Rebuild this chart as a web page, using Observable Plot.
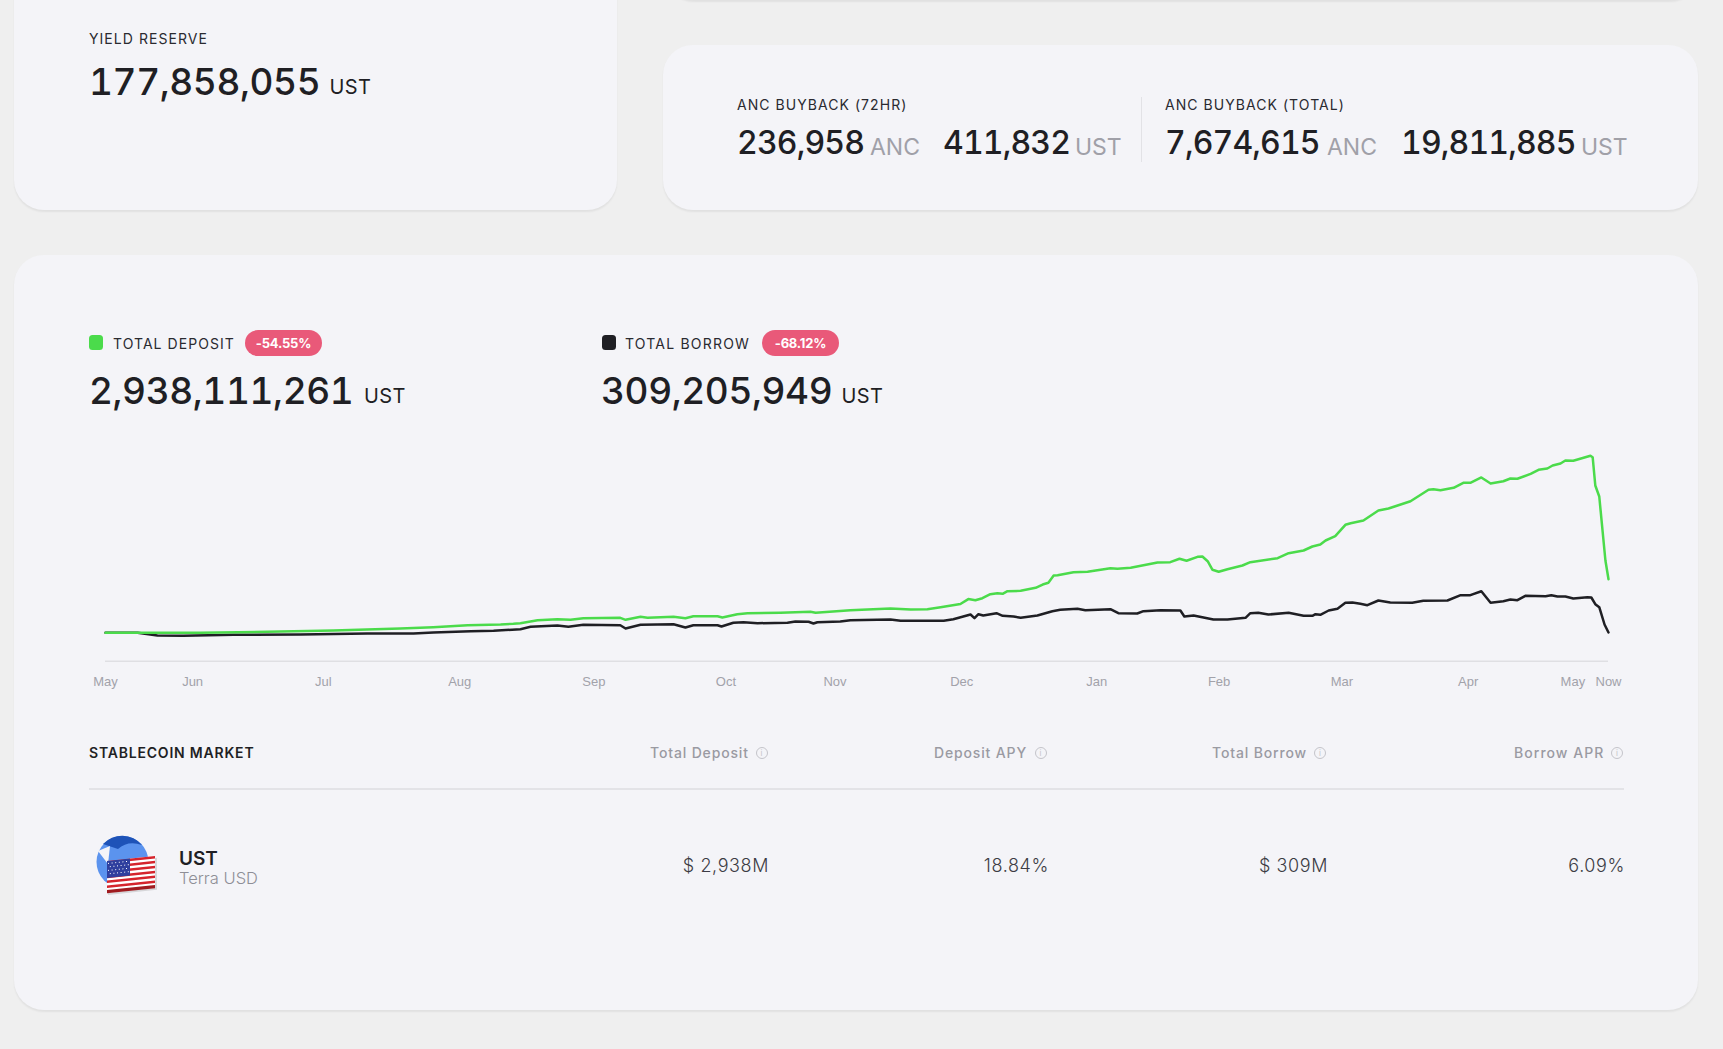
<!DOCTYPE html>
<html><head><meta charset="utf-8">
<script src="https://cdn.jsdelivr.net/npm/d3@7"></script>
<script src="https://cdn.jsdelivr.net/npm/@observablehq/plot@0.6"></script>
<style>
html,body{margin:0;padding:0;width:1723px;height:1049px;overflow:hidden;background:#efefef;font-family:Inter,"Noto Sans",sans-serif;color:#1f1f24}
.card{position:absolute;background:#f4f4f8;border-radius:30px;box-shadow:0 2px 2px rgba(0,0,0,.06)}
.t{position:absolute;white-space:nowrap;line-height:1;transform:translateY(-50%)}
.lab{font-size:14px;letter-spacing:1.05px;font-weight:400;color:#2a2a30}
.big{font-size:37px;font-weight:500;letter-spacing:-.4px;font-variant-numeric:tabular-nums}
.mid{font-size:32px;font-weight:500;letter-spacing:-.85px;font-variant-numeric:tabular-nums}
.unit{font-size:20px;font-weight:400;letter-spacing:.45px}
.gunit{font-size:23px;font-weight:400;color:#a0a0a8}
.badge{position:absolute;height:26px;border-radius:13px;background:#e95979;color:#fff;font-size:13px;font-weight:700;line-height:26px;text-align:center;letter-spacing:-.2px}
.sq{position:absolute;width:14px;height:15px;border-radius:3.5px}
.head{font-size:14px;color:#9a9aa2;letter-spacing:.85px;font-weight:500}
.info{position:absolute;width:10px;height:10px;border:1px solid #c4c4ca;border-radius:50%;transform:translate(-50%,-50%);color:#c4c4ca;font-size:8px;line-height:10px;text-align:center}
.cell{position:absolute;font-size:18px;font-weight:300;color:#3c3c44;line-height:1;transform:translate(-100%,-50%);white-space:nowrap;letter-spacing:.6px}
#chart{position:absolute;left:0;top:440px}
</style></head><body>
<div class="card" style="left:664px;width:1036px;top:-60px;height:60px"></div>
<div class="card" style="left:14px;top:-40px;width:603px;height:250px"></div>
<div class="card" style="left:663px;top:45px;width:1035px;height:165px"></div>
<div class="card" style="left:14px;top:255px;width:1684px;height:755px"></div>

<div class="t lab" style="left:89px;top:39px">YIELD RESERVE</div>
<div class="t big" style="left:89px;top:81px">177,858,055</div>
<div class="t unit" style="left:329.5px;top:87px">UST</div>

<div class="t lab" style="left:737px;top:105px">ANC BUYBACK (72HR)</div>
<div class="t mid" style="left:737px;top:143px">236,958</div>
<div class="t gunit" style="left:870px;top:147px">ANC</div>
<div class="t mid" style="left:943px;top:143px">411,832</div>
<div class="t gunit" style="left:1075px;top:147px">UST</div>
<div style="position:absolute;left:1141px;top:97px;width:1px;height:65px;background:#e2e2e6"></div>
<div class="t lab" style="left:1165px;top:105px">ANC BUYBACK (TOTAL)</div>
<div class="t mid" style="left:1165px;top:143px">7,674,615</div>
<div class="t gunit" style="left:1327px;top:147px">ANC</div>
<div class="t mid" style="left:1401px;top:143px">19,811,885</div>
<div class="t gunit" style="left:1581px;top:147px">UST</div>

<div class="sq" style="left:89px;top:335px;background:#4bdb4b"></div>
<div class="t lab" style="left:113px;top:344px">TOTAL DEPOSIT</div>
<div class="badge" style="left:245px;top:330px;width:77px">-54.55%</div>
<div class="t big" style="left:89px;top:390px">2,938,111,261</div>
<div class="t unit" style="left:364px;top:396px">UST</div>

<div class="sq" style="left:602px;top:335px;background:#1f1f24"></div>
<div class="t lab" style="left:625px;top:344px;letter-spacing:1.2px">TOTAL BORROW</div>
<div class="badge" style="left:762px;top:330px;width:77px">-68.12%</div>
<div class="t big" style="left:601px;top:390px">309,205,949</div>
<div class="t unit" style="left:841.5px;top:396px">UST</div>

<div id="chart"></div>

<div class="t lab" style="left:89px;top:753px;font-weight:600;color:#1f1f24;letter-spacing:.8px">STABLECOIN MARKET</div>
<div class="t head" style="left:650px;top:753px">Total Deposit</div><div class="info" style="left:761.5px;top:753px">i</div>
<div class="t head" style="left:934px;top:753px">Deposit APY</div><div class="info" style="left:1040.5px;top:753px">i</div>
<div class="t head" style="left:1212px;top:753px">Total Borrow</div><div class="info" style="left:1320px;top:753px">i</div>
<div class="t head" style="left:1514px;top:753px;letter-spacing:1.05px">Borrow APR</div><div class="info" style="left:1617px;top:753px">i</div>
<div style="position:absolute;left:89px;top:788px;width:1535px;height:2px;background:#e3e3e7"></div>

<svg style="position:absolute;left:90px;top:830px" width="72" height="72" viewBox="90 830 72 72">
 <circle cx="122.5" cy="862" r="26" fill="#5b93ee"/>
 <path d="M103 844a26 26 0 0 1 39 1q-14-5-24 4z" fill="#1e53b8"/>
 <path d="M98 851l12-5l-2 18z" fill="#f4f4f8"/>
 <g transform="translate(107,861) skewY(-6)">
  <rect x="1" y="2" width="49" height="32" fill="#000" opacity=".12"/>
  <rect width="48" height="32" fill="#fff"/>
  <rect y="0" width="48" height="2.5" fill="#d5242c"/><rect y="4.9" width="48" height="2.5" fill="#d5242c"/>
  <rect y="9.8" width="48" height="2.5" fill="#d5242c"/><rect y="14.7" width="48" height="2.5" fill="#d5242c"/>
  <rect y="19.6" width="48" height="2.5" fill="#d5242c"/><rect y="24.5" width="48" height="2.5" fill="#d5242c"/>
  <rect y="29" width="48" height="3.2" fill="#a01b20"/>
  <rect width="23" height="17" fill="#2f3f9e"/>
  <g stroke="#fff" stroke-width="1" stroke-dasharray="1 2.6"><path d="M1 2.5h21M2.8 6h19M1 9.5h21M2.8 13h19"/></g>
 </g>
</svg>
<div class="t" style="left:179px;top:857.5px;font-size:19px;font-weight:600">UST</div>
<div class="t" style="left:179px;top:878px;font-size:16.5px;font-weight:300;color:#8e8e96">Terra USD</div>
<div class="cell" style="left:769px;top:866px">$ 2,938M</div>
<div class="cell" style="left:1049px;top:866px">18.84%</div>
<div class="cell" style="left:1328px;top:866px">$ 309M</div>
<div class="cell" style="left:1625px;top:866px">6.09%</div>

<script>
const tickDays = [0,19.8,49.5,80.5,111,141,165.8,194.6,225.3,253.1,281,309.7,333.5,341.6];
const tickLabels = ["May","Jun","Jul","Aug","Sep","Oct","Nov","Dec","Jan","Feb","Mar","Apr","May","Now"];

const depositDay = [0,8,21.6,36.8,51.8,67,74.5,82.3,89.8,92.7,94.3,98.2,102.7,105.7,108.6,117,118.2,121.6,123.2,129.1,131.8,133.6,139.1,140.2,143.6,145.9,153.4,160.2,161.4,169.3,178.4,183,186.8,189.8,194.3,196.1,197.7,199.3,201.1,202.7,203.9,205,208,211.4,213,214.3,215.5,216.4,220,223.2,228.4,230,233,239.1,242,244.1,245.7,248.2,249.3,250.5,251.6,253,255,258.4,260.2,266.4,268.9,272.3,274.3,276.1,277.3,279.5,281.8,283,285.9,289.3,291.6,296.6,300.7,301.8,303.4,306.4,308.6,310.2,312.7,314.8,317.7,319.3,320.9,323.9,325.7,327.7,328.9,330.7,331.8,333.6,337.5,338,338.6,339.5,340.9,341.6];
const depositM = [294,294,294,344,408,506,570,669,703,738,767,915,965,935,1014,1034,935,1083,1034,1083,1014,1113,1113,1049,1211,1260,1280,1330,1280,1408,1492,1443,1458,1556,1714,1956,1896,2000,2197,2247,2217,2345,2365,2513,2675,2759,3119,3134,3282,3302,3479,3449,3499,3760,3775,3943,3844,4041,4056,3824,3400,3302,3430,3612,3775,3972,4218,4352,4549,4647,4845,5057,5619,5698,5831,6324,6422,6782,7344,7374,7324,7443,7689,7689,7951,7655,7768,7901,7887,8133,8330,8394,8542,8641,8789,8774,9020,8951,7556,7014,3859,2938];

const borrowDay = [0,7.3,11.8,17.7,29.1,44.3,59.5,70,74.5,83,88.2,94.3,96.6,102.7,105.2,108.6,117,118.2,121.6,129.1,131.8,133.6,139.1,140,142.7,145,148.2,155,156.8,159.8,160.9,161.8,167,169.3,178.4,180.7,190.5,192.7,196.6,197.5,198.4,199.5,202.5,203.9,206.4,208,211.8,215.2,217,220.9,222.7,228.4,230.2,234.5,235.9,239.8,244.3,245.2,247.3,251.8,255,259.1,260.2,262,264.3,268.9,272.3,274.3,275,276.1,278,280,281.8,283.4,285.2,286.8,289.3,292,297,299.5,305,308,310.2,312.7,314.8,317.7,319.3,320.9,322.7,327.3,328.6,330,331.8,333.6,336.8,337.7,338.6,339.5,340.7,341.6];
const borrowM = [294,294,161,146,196,210,260,260,309,373,393,472,590,654,590,689,669,506,689,718,556,669,669,605,787,817,767,787,851,837,753,817,851,915,950,886,886,965,1196,1014,1211,1147,1260,1132,1098,1034,1147,1359,1428,1477,1408,1458,1260,1246,1359,1408,1394,1098,1147,950,950,1034,1260,1280,1196,1280,1132,1132,1211,1182,1394,1477,1773,1788,1724,1655,1887,1788,1773,1872,1887,2148,2148,2345,1773,1852,1936,1901,2118,2099,2148,2084,2084,1985,2049,2034,1704,1556,703,309];

const deposit = depositDay.map((d,i)=>({d,v:depositM[i]}));
const borrow = borrowDay.map((d,i)=>({d,v:borrowM[i]}));
const yMin = -1106, yMax = 9775;

const chart = Plot.plot({
  width:1723, height:260, marginLeft:105, marginRight:115, marginTop:0, marginBottom:39.3,
  style:{background:"transparent",fontFamily:"'Liberation Sans',Arial,sans-serif",fontSize:"13px",overflow:"visible"},
  x:{type:"linear",domain:[0,341.6]},
  y:{domain:[yMin,yMax],axis:null},
  marks:[
    Plot.ruleY([yMin],{stroke:"#dfdfe3",strokeWidth:1.5}),
    Plot.axisX({ticks:tickDays,tickFormat:d=>tickLabels[tickDays.indexOf(d)],tickSize:0,tickPadding:15.5,color:"#a2a2aa",label:null}),
    Plot.line(borrow,{x:"d",y:"v",stroke:"#1f1f24",strokeWidth:2.5}),
    Plot.line(deposit,{x:"d",y:"v",stroke:"#4bdb4b",strokeWidth:2.5})
  ]
});
document.getElementById("chart").appendChild(chart);
</script>
</body></html>
